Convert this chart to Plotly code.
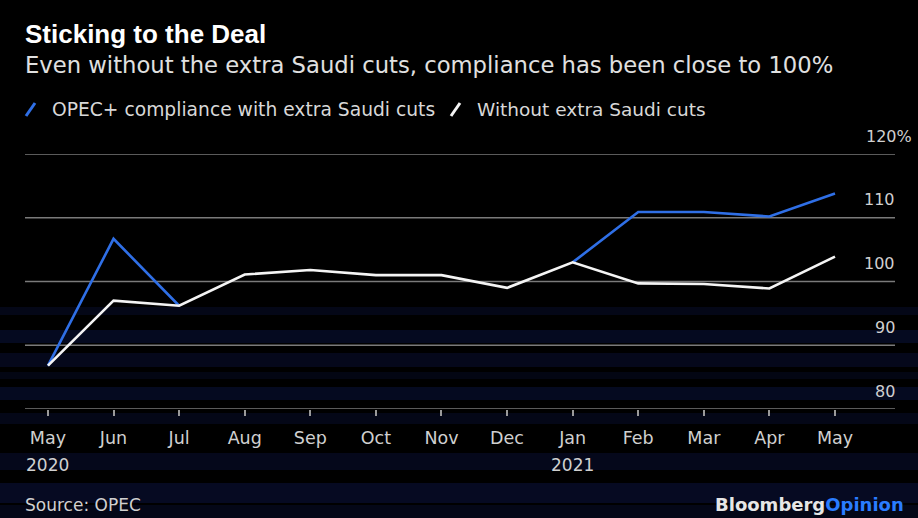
import plotly.graph_objects as go

# Monthly OPEC+ compliance, May 2020 - May 2021 (%)
months = ["May", "Jun", "Jul", "Aug", "Sep", "Oct", "Nov", "Dec",
          "Jan", "Feb", "Mar", "Apr", "May"]
years = {0: "2020", 8: "2021"}
with_saudi = [86.8, 106.7, 96.2, None, None, None, None, None,
              103.0, 110.9, 110.9, 110.2, 113.8]
without_saudi = [86.8, 97.0, 96.2, 101.1, 101.8, 101.0, 101.0, 99.0,
                 103.0, 99.7, 99.6, 98.9, 103.9]
y_ticks = [80, 90, 100, 110, 120]

W, H = 918, 518
L, R, T, B = 25, 23, 154, 109
PW, PH = W - L - R, H - T - B

def px(x):
    return (x - L) / PW

def py(y):
    return (H - B - y) / PH

BLUE = "#2f6fe6"
FONT = "DejaVu Sans"
TITLE_FONT = "Liberation Sans"
GREY = "#d0d0d0"

x = list(range(len(months)))
fig = go.Figure()
fig.add_trace(go.Scatter(x=x, y=with_saudi, mode="lines", connectgaps=False,
                         line=dict(color=BLUE, width=2.6), hoverinfo="skip"))
fig.add_trace(go.Scatter(x=x, y=without_saudi, mode="lines",
                         line=dict(color="#f4f4f4", width=2.6), hoverinfo="skip"))

shapes = []
# faint navy banding across the lower part of the canvas
bands = [(307, 315, 0.22), (330, 343, 0.3), (353, 367, 0.26), (372, 379, 0.18),
         (387, 400, 0.3), (413, 424, 0.22), (453, 470, 0.26), (483, 503, 0.32),
         (505, 518, 0.22)]
for y0, y1, a in bands:
    shapes.append(dict(type="rect", xref="paper", yref="paper", layer="below",
                       x0=px(0), x1=px(W), y0=py(y1), y1=py(y0),
                       fillcolor=f"rgba(18,32,105,{a})", line=dict(width=0)))
# horizontal gridlines, including the 80 baseline and the 120 top line
for v in y_ticks:
    shapes.append(dict(type="line", xref="paper", yref="y", layer="below",
                       x0=0, x1=1, y0=v, y1=v,
                       line=dict(color="#7a7a7a", width=1.5)))
# legend swatches
shapes.append(dict(type="line", xref="paper", yref="paper",
                   x0=px(26), y0=py(116), x1=px(35), y1=py(103),
                   line=dict(color=BLUE, width=3)))
shapes.append(dict(type="line", xref="paper", yref="paper",
                   x0=px(451), y0=py(116), x1=px(460), y1=py(103),
                   line=dict(color="#f4f4f4", width=3)))

ann = []
ann.append(dict(text="<b>Sticking to the Deal</b>", x=px(23), y=py(34),
                xanchor="left", yanchor="middle",
                font=dict(size=26, color="#ffffff", family=TITLE_FONT)))
ann.append(dict(text="Even without the extra Saudi cuts, compliance has been close to 100%",
                x=px(23), y=py(65), xanchor="left", yanchor="middle",
                font=dict(size=22.7, color="#e0e0e0", family=FONT)))
ann.append(dict(text="OPEC+ compliance with extra Saudi cuts", x=px(50), y=py(109),
                xanchor="left", yanchor="middle",
                font=dict(size=18.7, color="#d8d8d8", family=FONT)))
ann.append(dict(text="Without extra Saudi cuts", x=px(475), y=py(109),
                xanchor="left", yanchor="middle",
                font=dict(size=18.5, color="#d8d8d8", family=FONT)))
for v in y_ticks[:-1]:
    ann.append(dict(text=str(v), x=px(897), y=v, yref="y", yshift=18,
                    xanchor="right", yanchor="middle",
                    font=dict(size=16, color=GREY, family=FONT)))
ann.append(dict(text=f"{y_ticks[-1]}%", x=px(864), y=y_ticks[-1], yref="y", yshift=18,
                xanchor="left", yanchor="middle",
                font=dict(size=16, color=GREY, family=FONT)))
for i, yr in years.items():
    ann.append(dict(text=yr, x=i, xref="x", y=py(465), xanchor="center",
                    yanchor="middle", font=dict(size=17, color=GREY, family=FONT)))
ann.append(dict(text="Source: OPEC", x=px(23), y=py(505), xanchor="left",
                yanchor="middle", font=dict(size=17, color=GREY, family=FONT)))
ann.append(dict(text="<b>Bloomberg</b><b><span style='color:#2a7cff'>Opinion</span></b>",
                x=px(713), y=py(517), xanchor="left", yanchor="bottom",
                font=dict(size=18, color="#e6e6e6", family=FONT)))
for a in ann:
    a.setdefault("xref", "paper")
    a.setdefault("yref", "paper")
    a["showarrow"] = False

fig.update_layout(
    width=W, height=H,
    margin=dict(l=L, r=R, t=T, b=B),
    paper_bgcolor="#000000", plot_bgcolor="rgba(0,0,0,0)",
    showlegend=False,
    shapes=shapes, annotations=ann,
    xaxis=dict(range=[-0.35, 12.915], tickmode="array", tickvals=x, ticktext=months,
               showgrid=False, zeroline=False, showline=False,
               ticks="outside", ticklen=6, tickcolor="#9a9a9a", tickwidth=1.5,
               ticklabelstandoff=7,
               tickfont=dict(size=17.5, color=GREY, family=FONT)),
    yaxis=dict(range=[80, 120], tickvals=y_ticks, showticklabels=False,
               showgrid=False, zeroline=False, showline=False),
)
fig.write_html("out.html")
